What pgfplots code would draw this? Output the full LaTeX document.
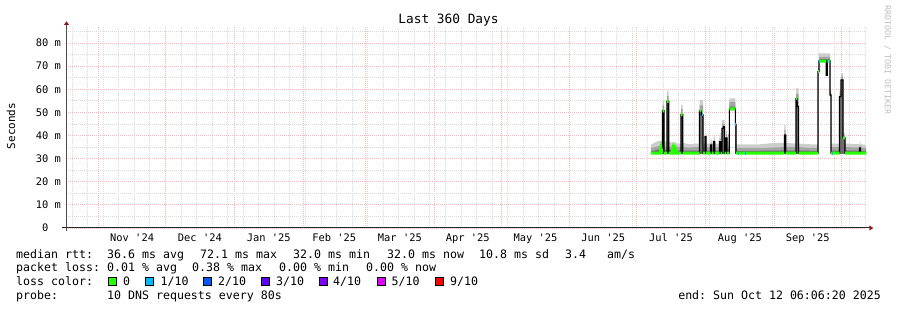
\documentclass[border=0pt]{standalone}
\usepackage{fontspec}
\setmonofont{DejaVu Sans Mono}
\renewcommand{\familydefault}{\ttdefault}
\usepackage{pgfplots}
\pgfplotsset{compat=1.18}
\usepgfplotslibrary{fillbetween}
\usepackage{pgfplotstable}

\definecolor{gmin}{RGB}{218,218,218}
\definecolor{gmaj}{RGB}{250,185,185}
\definecolor{smokeA}{RGB}{205,205,205}
\definecolor{smokeB}{RGB}{165,165,165}
\definecolor{smokeC}{RGB}{110,110,110}
\definecolor{lossA}{HTML}{26FF00}
\definecolor{lossB}{HTML}{00B8FF}
\definecolor{lossC}{HTML}{0059FF}
\definecolor{lossD}{HTML}{5E00FF}
\definecolor{lossE}{HTML}{7E00FF}
\definecolor{lossF}{HTML}{DD00FF}
\definecolor{lossG}{HTML}{FF0000}
\definecolor{arrowred}{RGB}{140,30,30}
\definecolor{wmark}{RGB}{190,190,190}

% smoke: x (days since 2024-10-01), lower edge, upper edges of 3 shades (ms)
\pgfplotstableread{
x lo h1 h2 h3
279.50 32 36.0 34.5 33.2
281.30 32 37.0 35.0 33.5
283.10 32 37.8 35.5 34.0
284.675 32 37.2 35.2 33.6
284.68 32 54.8 53.0 50.7
285.35 32 54.8 53.0 50.7
285.355 32 37.5 35.2 33.6
286.70 32 37.3 35.2 33.6
286.705 32 59.4 57.0 54.8
287.465 32 59.4 57.0 54.8
287.47 32 37.5 35.5 34.0
288.95 32 36.8 35.0 33.8
290.30 32 37.2 35.5 34.6
291.20 32 36.5 35.0 33.5
293.00 32 36.5 35.0 33.5
293.005 32 53.3 51.5 49.0
293.765 32 53.3 51.5 49.0
293.77 32 36.8 35.0 33.5
297.05 32 36.2 34.8 33.4
299.30 32 36.5 35.0 33.5
301.325 32 36.5 35.0 33.5
301.33 32 55.4 53.0 50.6
302.90 32 55.4 53.0 48.9
302.905 32 36.5 35.0 33.5
303.80 32 36.5 35.0 33.5
303.805 32 41.0 39.5 37.5
304.25 32 41.0 39.5 37.5
304.255 32 36.5 35.0 33.5
306.275 32 36.5 35.0 33.5
306.28 32 38.5 37.0 35.9
306.725 32 38.5 37.0 35.9
306.73 32 36.5 35.0 33.5
307.625 32 36.5 35.0 33.5
307.63 32 39.5 38.0 37.3
308.21 32 39.5 38.0 37.3
308.215 32 36.5 35.0 33.5
310.325 32 36.5 35.0 33.5
310.33 32 41.0 39.0 37.3
310.865 32 41.0 39.0 37.3
310.87 32 37.0 35.5 34.0
311.45 32 37.0 35.5 34.0
311.455 32 46.7 45.0 43.1
312.575 32 46.7 45.0 43.8
312.58 32 37.5 35.5 34.0
313.25 32 37.5 35.5 34.0
313.255 32 42.0 40.5 38.9
313.70 32 42.0 40.5 38.9
313.705 32 37.5 35.5 34.0
314.73 32 37.5 35.5 34.0
314.735 51 56.0 54.5 52.5
317.435 51 56.0 54.5 52.5
317.44 32 46.5 45.5 44.8
317.75 32 46.5 45.5 44.8
317.755 32 36.2 34.6 33.4
328.55 32 36.2 34.6 33.4
335.00 32 36.8 34.8 33.5
339.485 32 36.8 35.0 33.5
339.49 32 44.5 42.5 40.2
340.115 32 44.5 42.5 40.2
340.12 32 36.8 35.0 33.5
344.75 32 36.5 35.0 33.5
344.755 32 60.4 58.0 56.0
345.875 32 60.4 58.0 52.5
345.88 32 36.5 35.0 33.5
351.05 32 36.2 34.6 33.4
354.65 32 36.2 34.6 33.4
354.655 67 70.0 69.0 68.0
355.10 67 70.0 69.0 68.0
355.105 72 75.5 74.0 73.0
358.34 72 75.5 74.0 73.0
358.345 66 75.5 74.0 73.0
358.88 66 75.5 74.0 73.0
358.885 72 75.5 74.0 73.0
360.05 72 75.5 74.0 73.0
360.055 57 60.0 59.0 58.0
360.50 57 60.0 59.0 58.0
360.505 32 36.5 35.0 33.5
364.325 32 36.5 35.0 33.5
364.33 32 60.0 58.5 56.8
365.00 32 60.0 58.5 56.8
365.005 32 67.0 65.5 64.0
365.90 32 67.0 65.5 64.0
365.905 32 41.0 40.0 39.0
366.80 32 41.0 40.0 39.0
366.805 32 36.5 35.0 33.5
373.325 32 36.2 34.8 33.4
373.33 32 37.2 35.8 34.6
373.775 32 37.2 35.8 34.6
373.78 32 36.2 34.8 33.4
376.25 32 36.0 34.6 33.4
}\smoke

% median rtt (ms)
\pgfplotstableread{
x y
279.5 32.4
283.55 32.4
284.0 34.6
284.45 32.4
284.675 32.4
284.68 50.7
285.35 50.7
285.355 32.4
286.7 32.4
286.705 54.8
287.465 54.8
287.47 32.4
288.95 32.4
289.4 34.6
289.85 33.2
290.3 34.6
291.2 32.4
293.0 32.4
293.005 49.0
293.765 49.0
293.77 32.4
301.325 32.4
301.33 50.6
302.0 50.6
302.225 48.9
302.9 48.9
302.905 32.4
303.8 32.4
303.805 39.5
304.25 39.5
304.255 32.4
306.275 32.4
306.28 35.9
306.725 35.9
306.73 32.4
307.625 32.4
307.63 37.3
308.21 37.3
308.215 32.4
310.325 32.4
310.33 37.3
310.865 37.3
310.87 32.4
311.45 32.4
311.455 43.1
311.9 43.1
312.1 43.8
312.575 43.8
312.58 32.4
313.25 32.4
313.255 38.9
313.7 38.9
313.705 32.4
314.73 32.4
314.735 51.5
317.435 51.5
317.44 44.8
317.75 44.8
317.755 32.4
339.485 32.4
339.49 40.2
340.115 40.2
340.12 32.4
344.75 32.4
344.755 56.0
345.2 56.0
345.4 52.5
345.875 52.5
345.88 32.4
354.65 32.4
354.655 67.6
355.1 67.6
355.105 72.2
358.34 72.2
358.345 66.0
358.88 66.0
358.885 72.2
360.05 72.2
360.055 57.5
360.5 57.5
360.505 32.4
364.325 32.4
364.33 56.8
365.0 56.8
365.005 64.0
365.9 64.0
365.905 39.0
366.8 39.0
366.805 32.4
373.325 32.4
373.33 34.6
373.775 34.6
373.78 32.4
376.25 32.4
}\med

\newcommand{\legfont}{\fontsize{11.6bp}{14bp}\selectfont}

\begin{document}
\begin{tikzpicture}
\begin{axis}[
  at={(66bp,82bp)}, anchor=south west,
  scale only axis, width=800bp, height=201bp,
  xmin=16.25, xmax=376.25, ymin=0, ymax=86.92,
  axis line style={draw=none},
  axis background/.style={fill=white},
  no markers,
  xtick={31,61,92,123,151,182,212,243,273,304,335,365},
  minor xtick={19,26,...,376},
  xticklabels={},
  extra x ticks={46,76.5,107.5,137,166.5,197,227.5,258,288.5,319.5,350},
  extra x tick labels={Nov '24,Dec '24,Jan '25,Feb '25,Mar '25,Apr '25,May '25,Jun '25,Jul '25,Aug '25,Sep '25},
  extra x tick style={grid=none},
  ytick={0,10,...,80},
  yticklabels={0\hphantom{mm},10 m,20 m,30 m,40 m,50 m,60 m,70 m,80 m},
  minor ytick={5,15,...,85},
  grid=both,
  major grid style={gmaj, line width=0.8bp, dash pattern=on 1bp off 1bp},
  minor grid style={gmin, line width=0.8bp, dash pattern=on 1bp off 1bp},
  major tick length=0pt, minor tick length=0pt,
  tick label style={font=\fontsize{10.4bp}{12bp}\selectfont, inner sep=0pt, text=black},
  yticklabel style={anchor=east, xshift=-5bp},
  xticklabel style={anchor=base, yshift=-14bp},
]
\addplot[name path=lo, draw=none] table[x=x,y=lo]{\smoke};
\addplot[name path=hA, draw=none] table[x=x,y=h1]{\smoke};
\addplot[name path=hB, draw=none] table[x=x,y=h2]{\smoke};
\addplot[name path=hC, draw=none] table[x=x,y=h3]{\smoke};
\addplot[fill=smokeA, draw=none] fill between[of=hA and lo];
\addplot[fill=smokeB, draw=none] fill between[of=hB and lo];
\addplot[fill=smokeC, draw=none] fill between[of=hC and lo];
\addplot[black, line width=1.1bp] table[x=x,y=y]{\med};
\addplot[lossA, line width=3bp, unbounded coords=jump] table[x=x,y=y]{
x y
279.5 32.4
283.55 32.4
284.0 34.6
284.45 32.4
284.675 32.4
nan nan
284.68 50.7
285.35 50.7
nan nan
285.355 32.4
286.7 32.4
nan nan
286.705 54.8
287.465 54.8
nan nan
287.47 32.4
288.95 32.4
289.4 34.6
289.85 33.2
290.3 34.6
291.2 32.4
293.0 32.4
nan nan
293.005 49.0
293.765 49.0
nan nan
293.77 32.4
301.325 32.4
nan nan
301.33 50.6
302.0 50.6
nan nan
302.905 32.4
303.8 32.4
nan nan
304.255 32.4
306.275 32.4
nan nan
306.73 32.4
307.625 32.4
nan nan
308.215 32.4
310.325 32.4
nan nan
310.87 32.4
311.45 32.4
nan nan
312.58 32.4
313.25 32.4
nan nan
313.705 32.4
314.73 32.4
nan nan
314.735 51.5
317.435 51.5
nan nan
317.755 32.4
339.485 32.4
nan nan
340.12 32.4
344.75 32.4
nan nan
344.755 56.0
345.2 56.0
nan nan
345.88 32.4
354.65 32.4
nan nan
354.655 67.6
355.1 67.6
nan nan
355.105 72.2
358.34 72.2
nan nan
358.885 72.2
360.05 72.2
nan nan
360.505 32.4
364.325 32.4
nan nan
365.905 39.0
366.8 39.0
nan nan
366.805 32.4
376.25 32.4
};
\addplot[lossB, line width=3bp, unbounded coords=jump] table[x=x,y=y]{
x y
302.225 48.9
302.9 48.9
nan nan
317.44 44.8
317.75 44.8
nan nan
318.6 32.4
319.0 32.4
nan nan
321.9 32.4
322.3 32.4
nan nan
355.105 72.2
355.6 72.2
nan nan
359.6 72.2
360.05 72.2
nan nan
361.0 32.4
361.6 32.4
};
\end{axis}
% axes
\draw[black!85, line width=1bp] (62bp,82bp) -- (869.5bp,82bp);
\draw[black!70, line width=1bp] (66.5bp,79bp) -- (66.5bp,285.5bp);
\fill[arrowred] (63.8bp,285bp) -- (69.2bp,285bp) -- (66.5bp,288.6bp) -- cycle;
\fill[arrowred] (869.3bp,79.4bp) -- (869.3bp,84.6bp) -- (873.4bp,82bp) -- cycle;
% titles
\node[anchor=base, inner sep=0pt, font=\fontsize{12.8bp}{15bp}\selectfont] at (448.5bp,286bp) {Last 360 Days};
\node[rotate=90, inner sep=0pt, font=\fontsize{11bp}{13bp}\selectfont] at (11bp,184bp) {Seconds};
\node[rotate=-90, inner sep=0pt, text=wmark, font=\fontsize{8.3bp}{10bp}\selectfont] at (887.5bp,250bp) {RRDTOOL / TOBI OETIKER};
% legend
\begin{scope}[every node/.style={anchor=base west, inner sep=0pt, font=\legfont}]
\node at (16bp,51.8bp) {median rtt:};
\node at (107bp,51.8bp) {36.6 ms avg};
\node at (200bp,51.8bp) {72.1 ms max};
\node at (293bp,51.8bp) {32.0 ms min};
\node at (387bp,51.8bp) {32.0 ms now};
\node at (479bp,51.8bp) {10.8 ms sd};
\node at (565bp,51.8bp) {3.4};
\node at (607bp,51.8bp) {am/s};
\node at (16bp,38.2bp) {packet loss:};
\node at (107bp,38.2bp) {0.01 \% avg};
\node at (192bp,38.2bp) {0.38 \% max};
\node at (279bp,38.2bp) {0.00 \% min};
\node at (366bp,38.2bp) {0.00 \% now};
\node at (16bp,24.5bp) {loss color:};
\node at (123bp,24.5bp) {0};
\node at (160.5bp,24.5bp) {1/10};
\node at (218bp,24.5bp) {2/10};
\node at (276bp,24.5bp) {3/10};
\node at (333bp,24.5bp) {4/10};
\node at (391.5bp,24.5bp) {5/10};
\node at (450bp,24.5bp) {9/10};
\node at (16bp,10.9bp) {probe:};
\node at (107bp,10.9bp) {10 DNS requests every 80s};
\node[anchor=base east] at (881bp,10.9bp) {end: Sun Oct 12 06:06:20 2025};
\end{scope}
\begin{scope}[line width=0.8bp, draw=black]
\filldraw[fill=lossA] (108.7bp,24.5bp) rectangle ++(8bp,8bp);
\filldraw[fill=lossB] (145.7bp,24.5bp) rectangle ++(8bp,8bp);
\filldraw[fill=lossC] (203.3bp,24.5bp) rectangle ++(8bp,8bp);
\filldraw[fill=lossD] (261.7bp,24.5bp) rectangle ++(8bp,8bp);
\filldraw[fill=lossE] (319.3bp,24.5bp) rectangle ++(8bp,8bp);
\filldraw[fill=lossF] (377.3bp,24.5bp) rectangle ++(8bp,8bp);
\filldraw[fill=lossG] (435bp,24.5bp) rectangle ++(8bp,8bp);
\end{scope}
\pgfresetboundingbox
\path[use as bounding box] (0,0) rectangle (897bp,310bp);
\end{tikzpicture}
\end{document}
